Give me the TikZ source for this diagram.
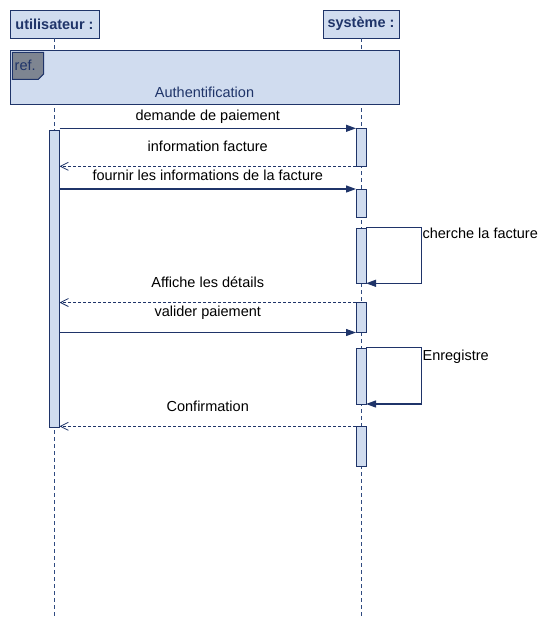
\documentclass[tikz,border=0pt]{standalone}
\usepackage{fontspec}
\setmainfont{Liberation Sans}
\usetikzlibrary{arrows.meta}
\definecolor{navy}{HTML}{1F3469}
\definecolor{lifec}{HTML}{2F4A80}
\definecolor{boxfill}{HTML}{D0DCEF}
\definecolor{tagfill}{HTML}{7E8591}
\tikzset{
  head/.style={draw=navy, fill=boxfill, line width=1pt, inner sep=0pt, minimum height=28pt, text=navy, font=\fontsize{14.5}{17}\selectfont\bfseries, outer sep=0pt},
  lifeline/.style={draw=lifec, line width=1pt, dash pattern=on 4pt off 3pt},
  act/.style={draw=navy, fill=boxfill, line width=1pt, minimum width=10pt, inner sep=0pt, outer sep=0pt, anchor=north},
  msg/.style={draw=navy, line width=1.2pt, -{Triangle[length=10pt,width=7pt]}},
  ret/.style={draw=navy, line width=1pt, dash pattern=on 3pt off 2pt, -{Straight Barb[length=8pt,width=8pt,line width=0.8pt]}},
  lbl/.style={font=\fontsize{14.5}{17}\selectfont, text=black, inner sep=0pt, anchor=base}
}
\begin{document}
\begin{tikzpicture}[x=1pt,y=-1pt]
\useasboundingbox (0,0) rectangle (560,627);
% heads
\node[head, minimum width=89pt] (u) at (54.5,24) {utilisateur :};
\node[head, minimum width=76pt] (s) at (361,24) {système :};
\coordinate (uend) at (54.5,617);
\coordinate (send) at (361,617);
\draw[lifeline] (u.south) -- (uend);
\draw[lifeline] (s.south) -- (send);
% ref frame
\node[draw=navy, fill=boxfill, line width=1pt, minimum width=389pt, minimum height=54pt, inner sep=0pt, anchor=north west] (ref) at (10,50) {};
\draw[draw=navy, fill=tagfill, line width=1pt] (12.3,52.3) -- (43.7,52.3) -- (43.7,74) -- (38.4,79.3) -- (12.3,79.3) -- cycle;
\node[lbl, anchor=base west, text=navy] (reft) at (14.5,70) {ref.};
\node[lbl, text=navy] (auth) at (204.5,97) {Authentification};
% activations
\node[act, minimum height=297pt] (ua) at (54.5,130) {};
\node[act, minimum height=38pt] (s1) at (361,128.3) {};
\node[act, minimum height=28pt] (s2) at (361,189) {};
\node[act, minimum height=55pt] (s3) at (361,228.3) {};
\node[act, minimum height=30pt] (s4) at (361,302.5) {};
\node[act, minimum height=55.7pt] (s5) at (361,348.3) {};
\node[act, minimum height=40pt] (s6) at (361,426.3) {};
% messages
\draw[msg] (s1.north west -| ua.east) -- (s1.north west)
  node[lbl, pos=0.5, yshift=8pt] {demande de paiement};
\draw[ret] (s1.south west) -- (s1.south west -| ua.east)
  node[lbl, pos=0.5, yshift=15.3pt] {information facture};
\draw[msg] (s2.north west -| ua.east) -- (s2.north west)
  node[lbl, pos=0.5, yshift=9pt] {fournir les informations de la facture};
\draw[msg] (s3.north east) ++(0,-1) -- ++(55.4,0) coordinate (c3) |- (s3.south east);
\node[lbl, anchor=base west] (l3) at ([xshift=1pt,yshift=-11pt]c3) {cherche la facture};
\draw[ret] (s4.north west) -- (s4.north west -| ua.east)
  node[lbl, pos=0.5, yshift=15.5pt] {Affiche les détails};
\draw[msg] (s4.south west -| ua.east) -- (s4.south west)
  node[lbl, pos=0.5, yshift=16pt] {valider paiement};
\draw[msg] (s5.north east) ++(0,-1) -- ++(55.4,0) coordinate (c5) |- (s5.south east);
\node[lbl, anchor=base west] (l5) at ([xshift=1pt,yshift=-13pt]c5) {Enregistre};
\draw[ret] (s6.north west) -- (s6.north west -| ua.east)
  node[lbl, pos=0.5, yshift=15.3pt] {Confirmation};
\end{tikzpicture}
\end{document}
